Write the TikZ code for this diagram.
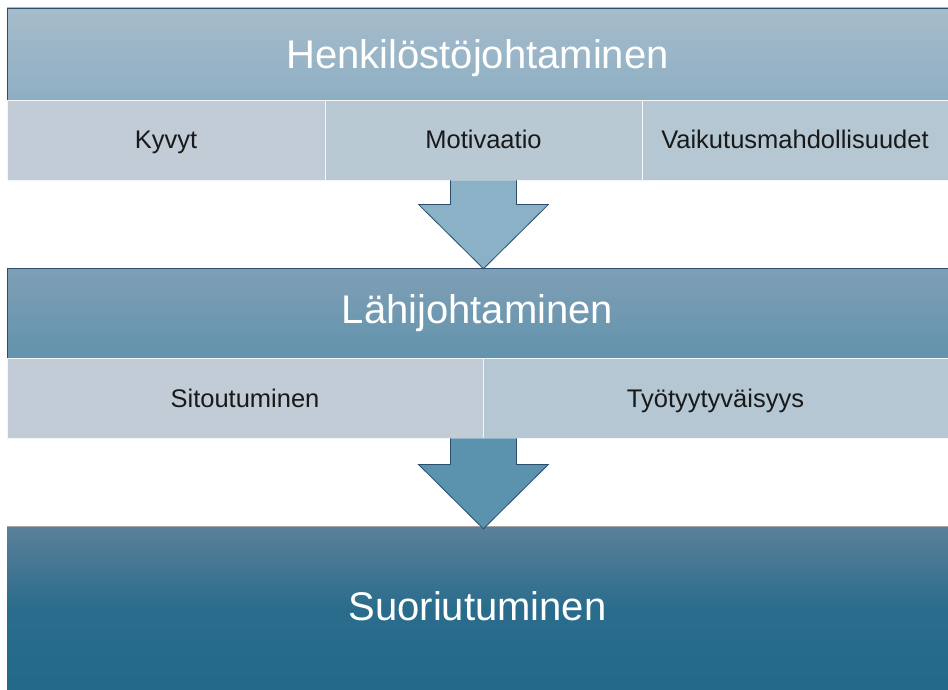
\documentclass[tikz,border=0pt]{standalone}
\usepackage{fontspec}
\setmainfont{Liberation Sans}
\usetikzlibrary{calc}
\definecolor{edge}{HTML}{2C4D6E}
\definecolor{topA}{HTML}{A7BCCB}
\definecolor{topB}{HTML}{8DAFC3}
\definecolor{midA}{HTML}{7F9FB5}
\definecolor{midB}{HTML}{6293AD}
\definecolor{lowA}{HTML}{5B8099}
\definecolor{lowB}{HTML}{22698A}
\definecolor{cellA}{HTML}{C1CCD6}
\definecolor{cellB}{HTML}{B9C9D4}
\definecolor{cellC}{HTML}{B4C7D3}
\definecolor{arrA}{HTML}{8AB1C5}
\definecolor{arrB}{HTML}{5B93AE}
\begin{document}
\begin{tikzpicture}[x=1pt,y=-1pt,
  banner/.style={minimum width=941pt,inner sep=0pt,text=white,
    font=\fontsize{40}{48}\selectfont,text height=29pt,text depth=0pt},
  cell/.style={minimum height=80pt,inner sep=0pt,draw=white!80!cellA,
    line width=0.8pt,text=black!90,
    font=\fontsize{25.5}{30}\selectfont,text height=18pt,text depth=0pt},
  blockarrow/.style={draw=edge,line width=0.8pt,line join=miter}]
\useasboundingbox (0,0) rectangle (948,690);
% Kaistat
\node[banner,minimum height=92pt,top color=topA,bottom color=topB,
  draw=edge,line width=0.6pt] (hen) at (477.5,54) {Henkilöstöjohtaminen};
\node[cell,minimum width=318pt,fill=cellA] (kyv) at (166,140) {Kyvyt};
\node[cell,minimum width=317pt,fill=cellB] (mot) at (483.5,140) {Motivaatio};
\node[cell,minimum width=306pt,fill=cellC] (vai) at (795,140) {Vaikutusmahdollisuudet};
\node[banner,minimum height=90pt,top color=midA,bottom color=midB,
  draw=edge,line width=0.6pt] (lah) at (477.5,313) {\raisebox{4.5pt}{Lähijohtaminen}};
\node[cell,minimum width=476pt,fill=cellA] (sit) at (245,398) {Sitoutuminen};
\node[cell,minimum width=465pt,fill=cellC] (tyo) at (715.5,398) {Työtyytyväisyys};
\node[banner,minimum height=164pt,top color=lowA,bottom color=lowB,
  middle color=lowB!85!lowA] (suo) at (477.5,608) {\raisebox{2.5pt}{Suoriutuminen}};
\draw[gray!70,line width=0.6pt] (suo.north west) -- (suo.north east);
% Nuolet
\coordinate (p) at (mot.south);
\coordinate (t) at (p |- lah.north);
\fill[arrA,blockarrow] ($(p)+(-33,0)$) -- ($(p)+(-33,24)$) -- ($(p)+(-65,24)$)
  -- ($(t)+(0,1)$) -- ($(p)+(65,24)$) -- ($(p)+(33,24)$) -- ($(p)+(33,0)$);
\coordinate (q) at (sit.south east);
\coordinate (u) at (q |- suo.north);
\fill[arrB,blockarrow] ($(q)+(-33,0)$) -- ($(q)+(-33,26)$) -- ($(q)+(-65,26)$)
  -- ($(u)+(0,3)$) -- ($(q)+(65,26)$) -- ($(q)+(33,26)$) -- ($(q)+(33,0)$);
\end{tikzpicture}
\end{document}
